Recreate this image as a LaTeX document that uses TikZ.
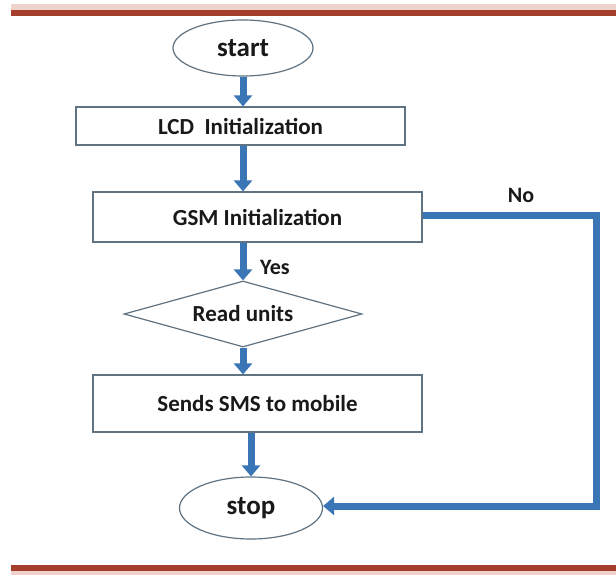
\documentclass[tikz,border=0pt]{standalone}
\usepackage{fontspec}
\setmainfont{Carlito}
\usetikzlibrary{arrows.meta,shapes.geometric}
\definecolor{flowblue}{RGB}{58,117,182}
\definecolor{boxline}{RGB}{95,115,130}
\definecolor{barred}{RGB}{165,62,45}
\definecolor{barpink}{RGB}{238,210,204}
\definecolor{txt}{RGB}{25,25,25}
\tikzset{
  flow/.style={draw=flowblue, line width=7pt, -{Triangle[width=18pt,length=11pt]}},
  procbox/.style={draw=boxline, line width=1.2pt, rectangle, minimum width=329pt, text=txt, font=\fontsize{23}{25}\selectfont\bfseries},
  termnode/.style={draw=boxline, line width=1.2pt, ellipse, text=txt, font=\fontsize{27}{29}\selectfont\bfseries},
  decnode/.style={draw=boxline, line width=1.2pt, diamond, aspect=3.6, inner sep=0pt, minimum width=238pt, minimum height=66pt, text=txt, font=\fontsize{23}{25}\selectfont\bfseries},
  lbl/.style={text=txt, font=\fontsize{22}{24}\selectfont\bfseries}
}
\begin{document}
\begin{tikzpicture}[x=1pt,y=-1pt]
\useasboundingbox (0,0) rectangle (616,575);
\fill[white] (0,0) rectangle (616,575);
% frame bars
\fill[barpink] (11,4) rectangle (616,10);
\fill[barred] (11,10) rectangle (616,16);
\fill[barred] (11,565) rectangle (616,571);
\fill[barpink] (11,571) rectangle (616,575);
% nodes
\node[termnode, minimum width=140pt, minimum height=56pt] (start) at (243,48) {start};
\node[procbox, minimum height=38pt] (lcd) at (240.5,126) {LCD\ \ Initialization};
\node[procbox, minimum height=50pt] (gsm) at (257.5,217) {GSM Initialization};
\node[decnode] (dia) at (243,314) {Read units};
\node[procbox, minimum height=57pt] (sms) at (257.5,403.5) {Sends SMS to mobile};
\node[termnode, minimum width=143pt, minimum height=62pt] (stop) at (251,508) {stop};
\coordinate (c1) at (596,215);
\coordinate (c2) at (596,506);
% connectors
\draw[flow] (start.south) -- (start.south |- lcd.north);
\draw[flow] (lcd.south -| start.south) -- (gsm.north -| start.south);
\draw[flow] (dia.north |- gsm.south) -- (dia.north);
\draw[flow] (dia.south) -- (dia.south |- sms.north);
\draw[flow] (stop.north |- sms.south) -- (stop.north);
\draw[flow] (gsm.east |- c1) -- (c1) -- (c2) -- (stop.east |- c2);
% labels
\node[lbl] (yes) at (275,267) {Yes};
\node[lbl] (no) at (521,195) {No};
\end{tikzpicture}
\end{document}
